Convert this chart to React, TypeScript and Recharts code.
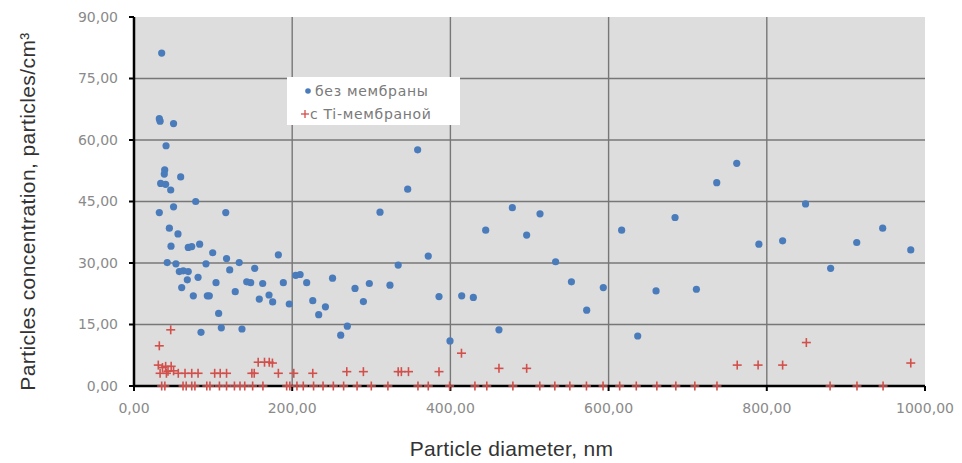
import React from "react";
import {
  ScatterChart,
  Scatter,
  XAxis,
  YAxis,
  CartesianGrid,
  Legend,
  Label,
  ReferenceLine,
} from "recharts";

// ---- data ----
const blueDiameter = [
  35, 32, 33, 50, 40.5, 38.8, 38.3, 59, 33.7, 40, 46.4, 78, 50, 32, 116, 44.7, 55.6, 46.8, 68.6, 73,
  83, 99.5, 42, 53, 91, 117, 121, 57.3, 62.3, 68.6, 67.4, 81, 103.7, 60.3, 128, 75, 92.7, 95.2, 107, 110.4,
  84.7, 133, 182.5, 152.6, 142.5, 147.5, 162.7, 188.8, 204.4, 210, 218.3, 251, 158.4, 170.7, 175.3, 196.3, 226, 242, 233.5, 279.4,
  290, 297.5, 136.5, 269.7, 261.3, 372, 334, 323.6, 385.6, 414.3, 429, 399.5, 461.4, 358.6, 346, 311, 478.3, 444.6, 496.4, 513.3,
  616.5, 533, 553, 593.3, 572.3, 660, 636.8, 762, 736.7, 684, 849, 790, 820, 913.7, 946.5, 982, 880.7, 711,
];
const blueConc = [
  81.2, 65.2, 64.6, 64, 58.6, 52.7, 51.7, 51, 49.4, 49.2, 47.8, 45, 43.7, 42.3, 42.3, 38.5, 37.1, 34.1, 33.8, 34,
  34.6, 32.5, 30.1, 29.8, 29.8, 31.1, 28.3, 27.9, 28.1, 27.9, 25.9, 26.5, 25.2, 24, 23, 22, 22, 22, 17.7, 14.2,
  13.1, 30.1, 32, 28.7, 25.4, 25.2, 25, 25.2, 27, 27.2, 25.2, 26.3, 21.2, 22.2, 20.5, 20, 20.8, 19.3, 17.4, 23.8,
  20.6, 25, 13.9, 14.6, 12.4, 31.7, 29.5, 24.6, 21.8, 22, 21.6, 11, 13.7, 57.6, 48, 42.4, 43.5, 38, 36.8, 42,
  38, 30.3, 25.4, 24, 18.5, 23.2, 12.2, 54.3, 49.6, 41.1, 44.4, 34.6, 35.4, 35, 38.5, 33.2, 28.7, 23.6,
];

const redDiameter = [
  35, 39, 62, 66, 73, 77, 92, 96, 108, 117, 127, 134, 140, 150, 163, 193, 197, 206, 214, 227,
  239, 252, 265, 282, 300, 321, 359, 372, 399, 431, 446, 479, 513, 532, 551, 572, 593, 614, 635, 661,
  685, 709, 737, 880, 914, 947,
  30.7, 32, 46.4, 36, 40, 43, 47, 50, 33, 41, 56, 64.5, 73, 81, 102, 109, 117, 149, 152, 157,
  165, 171, 175, 182.5, 202, 226, 269, 290, 334, 338, 347, 385.6, 414, 461.4, 496.4, 762.6, 789, 820, 850, 982,
];
const redConc = [
  0, 0, 0, 0, 0, 0, 0, 0, 0, 0, 0, 0, 0, 0, 0, 0, 0, 0, 0, 0,
  0, 0, 0, 0, 0, 0, 0, 0, 0, 0, 0, 0, 0, 0, 0, 0, 0, 0, 0, 0,
  0, 0, 0, 0, 0, 0,
  5.1, 9.8, 13.7, 4.5, 4.8, 3.6, 4.8, 3.7, 3.1, 3.1, 3.1, 3.1, 3.1, 3.1, 3.1, 3.1, 3.1, 3.1, 3.1, 5.8,
  5.8, 5.8, 5.6, 3.1, 3.1, 3.1, 3.5, 3.5, 3.5, 3.5, 3.5, 3.5, 8, 4.3, 4.3, 5.1, 5.1, 5.1, 10.6, 5.6,
];

const xTicks = [0, 200, 400, 600, 800, 1000];
const yTicks = [0, 15, 30, 45, 60, 75, 90];
const seriesNames = ["без мембраны", "с Ti-мембраной"];
const xTitle = "Particle diameter, nm";
const yTitle = "Particles concentration, particles/cm³";

const blueData = blueDiameter.map((d, i) => ({ d, c: blueConc[i] }));
const redData = redDiameter.map((d, i) => ({ d, c: redConc[i] }));

const BLUE = "#4a7cbc";
const RED = "#d2504c";

const fmt = (v: number) => v.toFixed(2).replace(".", ",");

const BlueDot = (props: any) => {
  const { cx, cy } = props;
  if (cx == null || cy == null) return null;
  return <circle cx={cx} cy={cy} r={3.6} fill={BLUE} />;
};

const RedPlus = (props: any) => {
  const { cx, cy } = props;
  if (cx == null || cy == null) return null;
  const s = 4.5;
  return (
    <g stroke={RED} strokeWidth={1.6}>
      <line x1={cx - s} y1={cy} x2={cx + s} y2={cy} />
      <line x1={cx} y1={cy - s} x2={cx} y2={cy + s} />
    </g>
  );
};

const LegendBox = () => (
  <div
    style={{
      background: "#ffffff",
      width: 173,
      height: 48,
      boxSizing: "border-box",
      paddingTop: 2,
      fontFamily: "'DejaVu Sans', sans-serif",
      fontSize: 14,
      letterSpacing: 0.7,
      color: "#7a7a7a",
    }}
  >
    <div style={{ display: "flex", alignItems: "center", height: 23 }}>
      <svg width={28} height={12} style={{ flex: "none" }}>
        <circle cx={21} cy={6} r={2.8} fill={BLUE} />
      </svg>
      <span>{seriesNames[0]}</span>
    </div>
    <div style={{ display: "flex", alignItems: "center", height: 23 }}>
      <svg width={23} height={12} style={{ flex: "none" }}>
        <g stroke={RED} strokeWidth={1.3}>
          <line x1={14} y1={6} x2={22} y2={6} />
          <line x1={18} y1={2} x2={18} y2={10} />
        </g>
      </svg>
      <span>{seriesNames[1]}</span>
    </div>
  </div>
);

const tickStyle = {
  fontFamily: "'DejaVu Sans', sans-serif",
  fontSize: 14,
  fill: "#8a8a8a",
};

const titleFont = "'Liberation Sans', Arial, sans-serif";

const YTitle = (props: any) => {
  const vb = props.viewBox || {};
  const cy = (vb.y ?? 17) + (vb.height ?? 369) / 2 + 10;
  const cx = 27;
  return (
    <text
      x={cx}
      y={cy}
      transform={`rotate(-90, ${cx}, ${cy})`}
      textAnchor="middle"
      dominantBaseline="central"
      fontFamily={titleFont}
      fontSize={21}
      letterSpacing={0.4}
      fill="#333"
    >
      {yTitle}
    </text>
  );
};

export default function App() {
  return (
    <div style={{ position: "absolute", left: 0, top: 0, width: 962, height: 463, background: "#fff" }}>
      <ScatterChart
        width={962}
        height={463}
        margin={{ top: 17, right: 37, bottom: 47, left: 0 }}
      >
        <CartesianGrid
          fill="#dddddd"
          stroke="#777777"
          strokeWidth={1.4}
          horizontalValues={[15, 30, 45, 60, 75]}
          verticalValues={[200, 400, 600, 800]}
        />
        <XAxis
          type="number"
          dataKey="d"
          domain={[0, 1000]}
          ticks={xTicks}
          tickFormatter={fmt}
          height={30}
          tickSize={5}
          tickMargin={12}
          tick={tickStyle}
          axisLine={false}
          tickLine={{ stroke: "#000", strokeWidth: 2 }}
        >
          <Label
            value={xTitle}
            position="bottom"
            offset={25}
            dx={-18}
            style={{ fontFamily: titleFont, fontSize: 21, letterSpacing: 0.3, fill: "#333" }}
          />
        </XAxis>
        <YAxis
          type="number"
          dataKey="c"
          domain={[0, 90]}
          ticks={yTicks}
          tickFormatter={fmt}
          width={134}
          tickSize={5}
          tickMargin={11}
          tick={tickStyle}
          axisLine={{ stroke: "#000", strokeWidth: 2.5 }}
          tickLine={{ stroke: "#000", strokeWidth: 2 }}
        >
          <Label content={YTitle} />
        </YAxis>
        <ReferenceLine y={0} stroke="#000" strokeWidth={2.5} />
        <Legend
          layout="vertical"
          align="center"
          verticalAlign="middle"
          content={() => <LegendBox />}
          wrapperStyle={{ position: "absolute", left: 287, top: 77, width: 173, height: 48 }}
        />
        <Scatter
          name={seriesNames[0]}
          data={blueData}
          fill={BLUE}
          shape={BlueDot}
          isAnimationActive={false}
        />
        <Scatter
          name={seriesNames[1]}
          data={redData}
          fill={RED}
          shape={RedPlus}
          isAnimationActive={false}
        />
      </ScatterChart>
    </div>
  );
}
